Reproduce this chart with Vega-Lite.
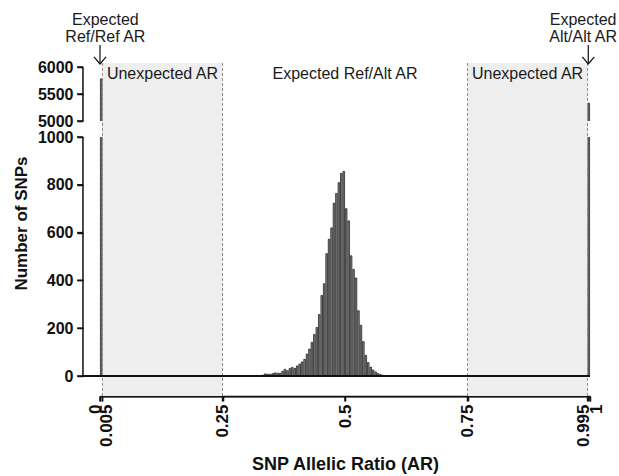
{
  "$schema": "https://vega.github.io/schema/vega-lite/v6.json",
  "width": 490,
  "height": 333,
  "autosize": "none",
  "padding": {"left": 100, "top": 63, "right": 29, "bottom": 80},
  "background": "white",
  "config": {
    "view": {"stroke": null},
    "font": "Liberation Sans",
    "axis": {
      "grid": false,
      "domainColor": "#111111", "tickColor": "#111111", "domainWidth": 1.5, "tickWidth": 1.5,
      "labelFont": "Liberation Sans", "labelFontWeight": "bold", "labelColor": "#111111",
      "titleFont": "Liberation Sans", "titleFontWeight": "bold", "titleColor": "#111111"
    }
  },
  "datasets": {
    "snps": [
      {"ar": 0.0025, "count": 5780},
      {"ar": 0.3025, "count": 1},
      {"ar": 0.3225, "count": 1},
      {"ar": 0.3275, "count": 1},
      {"ar": 0.3325, "count": 4},
      {"ar": 0.3375, "count": 9},
      {"ar": 0.3425, "count": 7},
      {"ar": 0.3475, "count": 7},
      {"ar": 0.3525, "count": 10},
      {"ar": 0.3575, "count": 13},
      {"ar": 0.3625, "count": 12},
      {"ar": 0.3675, "count": 11},
      {"ar": 0.3725, "count": 20},
      {"ar": 0.3775, "count": 28},
      {"ar": 0.3825, "count": 22},
      {"ar": 0.3875, "count": 31},
      {"ar": 0.3925, "count": 36},
      {"ar": 0.3975, "count": 32},
      {"ar": 0.4025, "count": 42},
      {"ar": 0.4075, "count": 50},
      {"ar": 0.4125, "count": 59},
      {"ar": 0.4175, "count": 70},
      {"ar": 0.4225, "count": 92},
      {"ar": 0.4275, "count": 113},
      {"ar": 0.4325, "count": 141},
      {"ar": 0.4375, "count": 174},
      {"ar": 0.4425, "count": 203},
      {"ar": 0.4475, "count": 257},
      {"ar": 0.4525, "count": 337},
      {"ar": 0.4575, "count": 386},
      {"ar": 0.4625, "count": 512},
      {"ar": 0.4675, "count": 572},
      {"ar": 0.4725, "count": 620},
      {"ar": 0.4775, "count": 723},
      {"ar": 0.4825, "count": 764},
      {"ar": 0.4875, "count": 809},
      {"ar": 0.4925, "count": 848},
      {"ar": 0.4975, "count": 856},
      {"ar": 0.5025, "count": 700},
      {"ar": 0.5075, "count": 649},
      {"ar": 0.5125, "count": 503},
      {"ar": 0.5175, "count": 446},
      {"ar": 0.5225, "count": 410},
      {"ar": 0.5275, "count": 273},
      {"ar": 0.5325, "count": 212},
      {"ar": 0.5375, "count": 144},
      {"ar": 0.5425, "count": 86},
      {"ar": 0.5475, "count": 56},
      {"ar": 0.5525, "count": 37},
      {"ar": 0.5575, "count": 25},
      {"ar": 0.5625, "count": 17},
      {"ar": 0.5675, "count": 10},
      {"ar": 0.5725, "count": 6},
      {"ar": 0.5775, "count": 3},
      {"ar": 0.5825, "count": 2},
      {"ar": 0.9975, "count": 5330}
    ],
    "zones": [{"lo": 0.005, "hi": 0.25}, {"lo": 0.75, "hi": 0.995}],
    "cutoffs": [{"ar": 0.005}, {"ar": 0.25}, {"ar": 0.75}, {"ar": 0.995}],
    "yAxisSegments": [{"lo": 0, "hi": 1000}, {"lo": 5000, "hi": 6000}],
    "yTicks": [{"v": 0}, {"v": 200}, {"v": 400}, {"v": 600}, {"v": 800}, {"v": 1000}, {"v": 5000}, {"v": 5500}, {"v": 6000}],
    "xTicks": [{"v": 0}, {"v": 0.005}, {"v": 0.25}, {"v": 0.5}, {"v": 0.75}, {"v": 0.995}, {"v": 1}],
    "zoneLabels": [
      {"text": "Unexpected AR", "ar": 0.1275},
      {"text": "Expected Ref/Alt AR", "ar": 0.5},
      {"text": "Unexpected AR", "ar": 0.8725}
    ],
    "arrows": [{"ar": 0.0}, {"ar": 0.9965}],
    "callouts": [
      {"line1": "Expected", "line2": "Ref/Ref AR", "ar": 0.011},
      {"line1": "Expected", "line2": "Alt/Alt AR", "ar": 0.986}
    ]
  },
  "layer": [
    {
      "data": {"name": "zones"},
      "mark": {"type": "rect", "color": "#eeeeee"},
      "encoding": {
        "x": {
          "field": "lo", "type": "quantitative",
          "scale": {"domain": [0, 1], "nice": false, "zero": false, "padding": 0},
          "axis": {
            "values": [0, 0.005, 0.25, 0.5, 0.75, 0.995, 1],
            "format": ".3~f",
            "labelAngle": -90,
            "labelFontSize": 17,
            "labelPadding": 3,
            "labelOverlap": false,
            "labelOffset": {"condition": [
              {"test": "datum.value === 0", "value": -5},
              {"test": "datum.value === 0.005", "value": 4},
              {"test": "datum.value === 0.995", "value": -4},
              {"test": "datum.value === 1", "value": 6}
            ], "value": 0},
            "tickSize": 5,
            "title": "SNP Allelic Ratio (AR)",
            "titleFontSize": 18,
            "titlePadding": 9
          }
        },
        "x2": {"field": "hi"}
      }
    },
    {
      "data": {"name": "snps"},
      "mark": {"type": "bar", "width": 1.6, "fill": "#8a8a8a", "stroke": "#111111", "strokeWidth": 0.7},
      "encoding": {
        "x": {"field": "ar", "type": "quantitative"},
        "y": {
          "field": "count", "type": "quantitative",
          "scale": {"domain": [0, 1000, 5000, 6000], "range": [313, 74, 58, 4], "nice": false, "zero": false},
          "axis": {
            "offset": 17,
            "values": [0, 200, 400, 600, 800, 1000, 5000, 5500, 6000],
            "format": "d",
            "domain": false,
            "labelFontSize": 16,
            "labelPadding": 4,
            "tickSize": 6,
            "title": "Number of SNPs",
            "titleFontSize": 17,
            "titlePadding": 7,
            "titleY": 160
          }
        },
        "y2": {"datum": 0}
      }
    },
    {
      "data": {"name": "snps"},
      "transform": [{"filter": "datum.count > 1000"}],
      "mark": {"type": "bar", "width": 3, "fill": "white"},
      "encoding": {
        "x": {"field": "ar", "type": "quantitative"},
        "y": {"datum": 5000, "type": "quantitative"},
        "y2": {"datum": 1000}
      }
    },
    {
      "data": {"name": "cutoffs"},
      "mark": {"type": "rule", "color": "#8c8c8c", "strokeDash": [3, 2], "strokeWidth": 1},
      "encoding": {"x": {"field": "ar", "type": "quantitative"}}
    },
    {
      "data": {"name": "yAxisSegments"},
      "mark": {"type": "rect", "fill": "#111111"},
      "encoding": {
        "x": {"datum": -0.0363, "type": "quantitative"},
        "x2": {"datum": -0.0332},
        "y": {"field": "lo", "type": "quantitative"},
        "y2": {"field": "hi"}
      }
    },
    {
      "data": {"name": "yTicks"},
      "mark": {"type": "tick", "orient": "horizontal", "size": 6, "thickness": 1.5, "color": "#111111", "opacity": 1},
      "encoding": {
        "x": {"datum": -0.0408, "type": "quantitative"},
        "y": {"field": "v", "type": "quantitative"}
      }
    },
    {
      "data": {"values": [{"from": 0, "to": 1, "top": -83.7, "bottom": -90}]},
      "mark": {"type": "rect", "fill": "#111111"},
      "encoding": {
        "x": {"field": "from", "type": "quantitative"},
        "x2": {"field": "to"},
        "y": {"field": "top", "type": "quantitative"},
        "y2": {"field": "bottom"}
      }
    },
    {
      "data": {"name": "xTicks"},
      "mark": {"type": "tick", "orient": "vertical", "size": 5, "thickness": 1.5, "color": "#111111", "opacity": 1},
      "encoding": {
        "x": {"field": "v", "type": "quantitative"},
        "y": {"datum": -96, "type": "quantitative"}
      }
    },
    {
      "data": {"values": [{"from": -0.0347, "to": 1, "level": 0}]},
      "mark": {"type": "rule", "color": "#111111", "strokeWidth": 2},
      "encoding": {
        "x": {"field": "from", "type": "quantitative"},
        "x2": {"field": "to"},
        "y": {"field": "level", "type": "quantitative"}
      }
    },
    {
      "data": {"name": "arrows"},
      "mark": {"type": "rule", "color": "#111111", "strokeWidth": 1.2},
      "encoding": {
        "x": {"field": "ar", "type": "quantitative"},
        "y": {"datum": 6407, "type": "quantitative"},
        "y2": {"datum": 6060}
      }
    },
    {
      "data": {"name": "arrows"},
      "mark": {"type": "point", "shape": "M-1,-1.17L0,0L1,-1.17", "size": 144, "filled": false, "stroke": "#111111", "strokeWidth": 1.2, "opacity": 1},
      "encoding": {
        "x": {"field": "ar", "type": "quantitative"},
        "y": {"datum": 6056, "type": "quantitative"}
      }
    },
    {
      "data": {"name": "zoneLabels"},
      "mark": {"type": "text", "font": "Liberation Sans", "fontSize": 16, "color": "#1a1a1a", "align": "center", "baseline": "alphabetic"},
      "encoding": {
        "x": {"field": "ar", "type": "quantitative"},
        "y": {"datum": 5769, "type": "quantitative"},
        "text": {"field": "text"}
      }
    },
    {
      "data": {"name": "callouts"},
      "mark": {"type": "text", "font": "Liberation Sans", "fontSize": 16, "color": "#1a1a1a", "align": "center", "baseline": "alphabetic"},
      "encoding": {
        "x": {"field": "ar", "type": "quantitative"},
        "y": {"datum": 6787, "type": "quantitative"},
        "text": {"field": "line1"}
      }
    },
    {
      "data": {"name": "callouts"},
      "mark": {"type": "text", "font": "Liberation Sans", "fontSize": 16, "color": "#1a1a1a", "align": "center", "baseline": "alphabetic"},
      "encoding": {
        "x": {"field": "ar", "type": "quantitative"},
        "y": {"datum": 6454, "type": "quantitative"},
        "text": {"field": "line2"}
      }
    }
  ]
}
